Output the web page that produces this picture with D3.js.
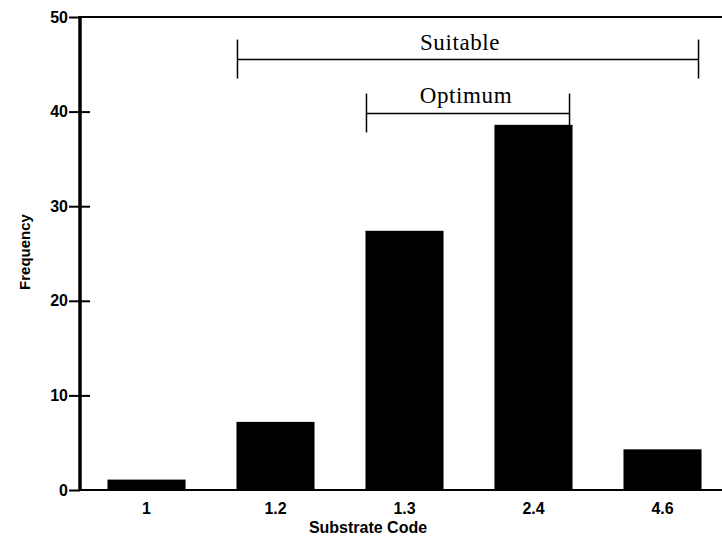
<!DOCTYPE html>
<html>
<head>
<meta charset="utf-8">
<script src="https://cdn.jsdelivr.net/npm/d3@7"></script>
<style>
  html, body { margin: 0; padding: 0; background: #fff; }
  svg { display: block; }
</style>
</head>
<body>
<svg id="chart" width="722" height="536"></svg>
<script>
// ---- data ----
const categories = ["1", "1.2", "1.3", "2.4", "4.6"];
const frequency = [1.1, 7.2, 27.4, 38.6, 4.3];
const yTicks = [0, 10, 20, 30, 40, 50];
const rangeLabels = ["Suitable", "Optimum"];
const rangeFrom = ["1.2", "1.3"];
const rangeTo = ["4.6", "2.4"];
const rangeLevel = [45.5, 39.8];
const xTitle = "Substrate Code";
const yTitle = "Frequency";

// ---- layout ----
(function () {
const svg = d3.select("#chart");
const mLeft = 80, mRight = 727, mTop = 17, mBottom = 490;
const sans = "Liberation Sans, Arial, sans-serif";

const x = d3.scaleBand().domain(categories).range([82, mRight])
  .paddingInner(0.395).paddingOuter(0.1975);
const y = d3.scaleLinear().domain([0, 50]).range([mBottom, mTop]);

// bars
svg.append("g").selectAll("rect").data(categories).join("rect")
  .attr("x", d => x(d))
  .attr("width", x.bandwidth())
  .attr("y", (d, i) => y(frequency[i]))
  .attr("height", (d, i) => y(0) - y(frequency[i]))
  .attr("fill", "#000");

// top frame line
svg.append("line").attr("x1", mLeft).attr("x2", 722).attr("y1", y(50)).attr("y2", y(50))
  .attr("stroke", "#000").attr("stroke-width", 2);

// x axis (line only, labels without ticks)
const xAxis = svg.append("g").attr("transform", `translate(0,${y(0)})`)
  .call(d3.axisBottom(x).tickSize(0).tickPadding(13));
xAxis.select(".domain").remove();
xAxis.selectAll("text").attr("font-family", sans)
  .attr("font-size", 16).attr("font-weight", "bold").attr("fill", "#000");
svg.append("line").attr("x1", mLeft).attr("x2", 722).attr("y1", y(0)).attr("y2", y(0))
  .attr("stroke", "#000").attr("stroke-width", 2);

// y axis
const yAxis = svg.append("g").attr("transform", `translate(${mLeft},0)`)
  .call(d3.axisLeft(y).tickValues(yTicks).tickSize(11).tickPadding(2));
yAxis.select(".domain").remove();
yAxis.selectAll(".tick line").attr("x1", 10).attr("x2", -11).attr("stroke-width", 2);
yAxis.selectAll(".tick").filter(d => d === 0 || d === 50).select("line").attr("x1", 0);
yAxis.selectAll("text").attr("font-family", sans)
  .attr("font-size", 16).attr("font-weight", "bold").attr("fill", "#000").attr("x", -12);
svg.append("line").attr("x1", mLeft).attr("x2", mLeft).attr("y1", y(50) - 1).attr("y2", y(0) + 1)
  .attr("stroke", "#000").attr("stroke-width", 3.5);

// axis titles
svg.append("text").attr("x", 368).attr("y", 533)
  .attr("text-anchor", "middle").attr("font-family", sans)
  .attr("font-size", 16).attr("font-weight", "bold").text(xTitle);
svg.append("text").attr("transform", `translate(30,252) rotate(-90)`)
  .attr("text-anchor", "middle").attr("font-family", sans)
  .attr("font-size", 15).attr("font-weight", "bold").text(yTitle);

// range brackets
rangeLabels.forEach((lab, i) => {
  const x1 = x(rangeFrom[i]) + 1;
  const x2 = x(rangeTo[i]) + x.bandwidth() - 3;
  const yy = y(rangeLevel[i]);
  const g = svg.append("g").attr("stroke", "#000").attr("stroke-width", 1.5);
  g.append("line").attr("x1", x1).attr("x2", x2).attr("y1", yy).attr("y2", yy);
  g.append("line").attr("x1", x1).attr("x2", x1).attr("y1", yy - 20).attr("y2", yy + 19);
  g.append("line").attr("x1", x2).attr("x2", x2).attr("y1", yy - 20).attr("y2", yy + 19);
  svg.append("text").attr("x", (x1 + x2) / 2 - (i === 0 ? 8 : 2)).attr("y", yy - 10)
    .attr("text-anchor", "middle").attr("font-family", "Liberation Serif, Times New Roman, serif")
    .attr("font-size", 23).attr("letter-spacing", 0.6).text(lab);
});
})();
</script>
</body>
</html>
